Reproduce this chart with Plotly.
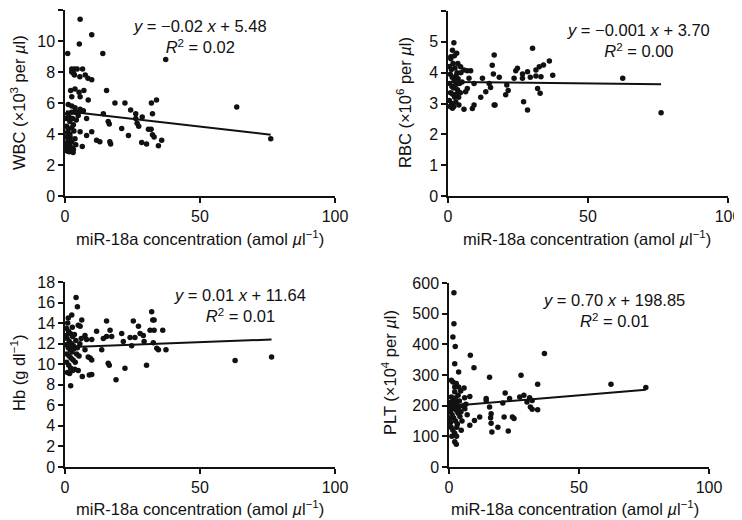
import numpy as np
import plotly.graph_objects as go

# ---------------- data ----------------
wbc_x = [5.6, 9.9, 5.3, 1.0, 14.0, 37.3,
         2.5, 3.5, 4.5, 6.5, 2.5, 3.2, 3.5, 5.5, 7.5, 8.5, 9.9,
         2.1, 3.7, 5.2, 7.0, 15.4,
         2.5, 5.6, 8.6, 18.5, 22.2, 32.0, 33.9,
         1.2, 2.5, 3.7, 5.6, 6.8, 1.0, 2.5, 3.7,
         14.2, 24.3, 26.2, 32.4,
         4.9, 8.0, 26.2, 28.6,
         16.0, 16.4, 21.0, 26.7, 27.3,
         30.9, 31.9, 32.4, 33.0,
         5.6, 8.0, 9.9,
         11.7, 12.9, 16.6, 16.9, 23.5,
         28.4, 30.2, 34.6, 35.8, 6.4,
         63.6, 76.2,
         0.6, 1.2, 1.8, 0.6, 1.2, 1.8, 2.5, 3.1, 1.2, 0.6, 2.5, 3.1, 1.8, 3.7, 2.5,
         0.8, 1.5, 2.2, 3.0, 0.5, 1.5, 2.8, 4.2, 4.0, 0.9, 1.9, 3.3, 4.5, 0.4]
wbc_y = [11.4, 10.4, 9.8, 9.2, 9.2, 8.8,
         8.2, 8.2, 8.2, 8.2, 8.0, 7.9, 7.8, 7.7, 7.8, 7.6, 7.5,
         6.8, 6.9, 6.7, 6.8, 6.8,
         6.4, 6.4, 6.2, 6.0, 6.0, 6.0, 6.2,
         5.9, 5.8, 5.7, 5.6, 5.5, 5.3, 5.4, 5.4,
         5.3, 5.55, 5.3, 5.3,
         5.2, 5.0, 5.0, 5.1,
         4.8, 4.65, 4.35, 4.7, 4.5,
         4.3, 4.3, 3.95, 3.8,
         4.15, 3.9, 4.15,
         3.6, 3.5, 3.5, 3.35, 3.9,
         3.45, 3.35, 3.25, 3.6, 3.2,
         5.75, 3.7,
         4.5, 4.3, 4.0, 3.8, 3.6, 3.3, 3.1, 3.0, 3.0, 3.2, 4.4, 4.6, 4.8, 3.7, 3.5,
         2.9, 2.85, 2.9, 2.8, 5.0, 5.1, 5.0, 4.9, 3.3, 4.1, 3.8, 4.2, 5.4, 3.4]

rbc_x = [2.1, 1.6, 3.1, 1.0, 30.2, 16.5,
         36.2, 34.1, 32.6, 31.4,
         24.8, 24.2, 28.4, 26.6,
         15.8, 8.1, 6.9, 4.5, 5.7,
         37.4, 31.4, 33.2,
         16.2, 18.3, 23.6, 26.6, 29.4,
         12.3, 7.5,
         21.0, 14.7, 9.3,
         15.2, 21.5, 32.0, 32.9,
         13.5, 11.7, 20.6,
         6.9, 6.3,
         16.5, 16.8, 27.0, 28.4,
         9.3, 8.7, 5.7, 3.9,
         62.4, 76.1,
         0.5, 1.2, 1.8, 2.5, 3.2, 0.8, 1.5, 2.2, 2.9, 3.6, 0.6, 1.4, 2.0, 2.7, 3.4, 4.1,
         0.9, 1.7, 2.4, 3.0, 3.8, 0.5, 1.3, 2.1, 2.8, 0.7, 1.6, 4.4, 3.5, 4.6, 5.0, 1.0, 2.3]
rbc_y = [4.97, 4.73, 4.63, 4.52, 4.79, 4.57,
         4.38, 4.25, 4.19, 4.09,
         4.14, 4.06, 4.03, 3.96,
         4.24, 4.06, 4.06, 4.19, 4.09,
         3.92, 3.89, 3.87,
         3.96, 3.85, 3.82, 3.82, 3.85,
         3.82, 3.82,
         3.6, 3.65, 3.65,
         3.52, 3.42, 3.49, 3.33,
         3.38, 3.2, 3.28,
         3.49, 3.38,
         2.95, 2.95, 3.06, 2.79,
         2.95, 2.84, 2.81, 2.95,
         3.82, 2.70,
         4.2, 4.1, 4.3, 4.15, 4.0, 3.95, 3.85, 3.75, 3.9, 3.8, 3.65, 3.55, 3.5, 3.6, 3.45, 3.65,
         3.35, 3.3, 3.2, 3.3, 3.2, 3.1, 3.0, 2.9, 3.05, 2.9, 2.85, 3.35, 4.3, 4.0, 3.7, 4.45, 4.55]

hb_x = [4.1, 4.6, 2.5, 1.2, 32.1, 32.5, 33.0,
        15.4, 25.3, 6.2, 4.9, 5.6,
        27.2, 16.7, 31.5, 33.0, 36.2,
        11.7, 21.0, 27.8, 29.0,
        15.4, 17.3, 24.1, 25.9,
        7.4, 8.0, 9.9, 14.2,
        21.6, 29.3, 32.7,
        13.6, 24.7, 34.6, 37.4, 34.0,
        7.4, 8.6, 9.3, 9.9,
        16.0, 16.4, 30.2, 22.2,
        4.9, 6.4, 9.0, 9.9,
        18.9, 2.1, 63.0, 76.5,
        0.5, 1.3, 2.0, 2.8, 3.5, 0.8, 1.6, 2.4, 3.1, 4.0, 0.5, 1.2, 1.9, 2.6, 3.3, 4.3,
        0.7, 1.5, 2.2, 3.0, 3.8, 0.6, 1.4, 2.1, 2.9, 3.6, 0.9, 1.7, 5.2, 5.5, 4.6, 6.0,
        0.4, 2.7, 1.0]
hb_y = [16.5, 15.6, 14.8, 14.5, 15.1, 14.3, 14.3,
        14.2, 14.2, 14.3, 13.8, 13.7,
        13.7, 13.3, 13.3, 13.3, 13.3,
        13.2, 13.0, 13.0, 12.8,
        12.7, 12.7, 12.6, 12.6,
        12.8, 12.4, 12.4, 12.5,
        12.2, 12.2, 12.1,
        11.4, 11.8, 11.4, 11.4, 11.55,
        11.4, 10.7, 10.6, 10.4,
        10.1, 9.9, 9.9, 9.6,
        9.4, 8.8, 8.95, 9.0,
        8.5, 7.9, 10.35, 10.7,
        13.5, 13.2, 13.0, 12.7, 12.9, 12.5, 12.2, 12.0, 11.8, 12.3, 11.9, 11.6, 11.4, 11.2, 11.5, 11.0,
        11.0, 10.8, 10.6, 10.4, 10.2, 10.2, 9.9, 9.6, 9.4, 9.5, 9.2, 9.1, 10.8, 12.0, 11.6, 12.5,
        12.8, 13.6, 14.0]

plt_x = [1.9, 1.9, 1.5, 2.4, 8.2, 36.7, 2.2, 3.7, 9.6,
         15.6, 27.7, 34.1, 62.3, 75.7,
         0.9, 1.5, 2.8, 2.2, 3.7, 4.5, 5.8, 2.2,
         21.6, 27.2, 28.8, 31.0, 32.0, 30.0, 31.3, 34.1, 32.0,
         14.3, 14.3, 20.7, 23.3, 6.0, 8.0,
         3.5, 0.9, 0.9, 0.3,
         15.6, 16.2, 16.0, 16.2, 16.5, 18.8,
         21.2, 24.4, 25.0, 22.8,
         11.8, 9.8, 8.0, 4.7,
         2.2, 2.8,
         0.5, 1.2, 1.8, 2.5, 3.2, 0.8, 1.5, 2.2, 2.9, 0.6, 1.4, 2.1, 2.8, 3.5, 4.2,
         0.9, 1.7, 2.4, 3.1, 3.8, 4.6, 5.3, 6.1, 7.0, 0.4, 1.1, 5.0, 3.0, 6.5, 4.0]
plt_y = [568, 467, 424, 393, 364, 370, 337, 310, 324,
         293, 299, 270, 270, 259,
         283, 277, 272, 261, 261, 248, 258, 245,
         241, 228, 234, 226, 217, 212, 196, 187, 188,
         223, 217, 209, 223, 226, 230,
         234, 228, 212, 196,
         196, 174, 161, 143, 114, 130,
         163, 163, 158, 117,
         163, 152, 136, 120,
         82, 74,
         180, 170, 160, 150, 140, 130, 120, 110, 100, 145, 190, 200, 185, 175, 165,
         205, 215, 225, 210, 195, 180, 200, 190, 170, 160, 100, 150, 130, 205, 215]

# regression equations shown on the chart
slopes = [-0.02, -0.001, 0.01, 0.70]
intercepts = [5.48, 3.70, 11.64, 198.85]
eq_text = ["<i>y</i> = \u22120.02 <i>x</i> + 5.48<br><i>R</i><sup>2</sup> = 0.02",
           "<i>y</i> = \u22120.001 <i>x</i> + 3.70<br><i>R</i><sup>2</sup> = 0.00",
           "<i>y</i> = 0.01 <i>x</i> + 11.64<br><i>R</i><sup>2</sup> = 0.01",
           "<i>y</i> = 0.70 <i>x</i> + 198.85<br><i>R</i><sup>2</sup> = 0.01"]
y_titles = ["WBC (\u00d710<sup>3</sup> per <i>\u00b5</i>l)",
            "RBC (\u00d710<sup>6</sup> per <i>\u00b5</i>l)",
            "Hb (g dl<sup>\u22121</sup>)",
            "PLT (\u00d710<sup>4</sup> per <i>\u00b5</i>l)"]
x_title = "miR-18a concentration (amol <i>\u00b5</i>l<sup>\u22121</sup>)"
x_ticks = [0, 50, 100]
y_ranges = [[0, 12], [0, 6], [0, 18], [0, 600]]
y_dticks = [2, 1, 2, 100]

xs = [wbc_x, rbc_x, hb_x, plt_x]
ys = [wbc_y, rbc_y, hb_y, plt_y]

# ---------------- layout geometry (screen pixels; page body offsets by 8px) ----------------
W, H = 742, 520
OFF = 8
def px(x): return (x - OFF) / W
def py(y): return 1 - (y - OFF) / H

x_domains = [[px(65), px(335)], [px(448), px(728)], [px(65), px(335)], [px(449), px(709)]]
y_domains = [[py(196), py(10)], [py(196), py(11)], [py(467), py(282)], [py(467), py(283)]]
ytitle_pos = [(px(18), py(103)), (px(404), py(103)), (px(18), py(373)), (px(389), py(373))]
xtitle_pos = [(px(200), py(238)), (px(587), py(238)), (px(200), py(508)), (px(575), py(508))]
eq_pos = [(px(200), py(36)), (px(638), py(40)), (px(240), py(305)), (px(614), py(310))]

FONT = "Liberation Sans, Arial, sans-serif"
INK = "#111111"
TXT = 16.5

fig = go.Figure()
for i in range(4):
    ax = "" if i == 0 else str(i + 1)
    fig.add_trace(go.Scatter(x=xs[i], y=ys[i], mode="markers",
                             marker=dict(color=INK, size=5.5),
                             cliponaxis=False, showlegend=False,
                             xaxis="x" + ax, yaxis="y" + ax))
    xl = np.array([min(xs[i]), max(xs[i])])
    yl = slopes[i] * xl + intercepts[i]
    fig.add_trace(go.Scatter(x=xl, y=yl, mode="lines",
                             line=dict(color=INK, width=2),
                             cliponaxis=False, showlegend=False,
                             xaxis="x" + ax, yaxis="y" + ax))
    axis_common = dict(showline=True, linecolor=INK, linewidth=1.5,
                       ticks="outside", ticklen=5, tickwidth=1.5, tickcolor=INK,
                       showgrid=False, zeroline=False, automargin=False,
                       tickfont=dict(family=FONT, size=16, color=INK))
    fig.update_layout(**{
        "xaxis" + ax: dict(domain=x_domains[i], range=[0, 100], tickvals=x_ticks,
                           anchor="y" + ax, **axis_common),
        "yaxis" + ax: dict(domain=y_domains[i], range=y_ranges[i], dtick=y_dticks[i],
                           anchor="x" + ax, **axis_common),
    })
    fig.add_annotation(x=ytitle_pos[i][0], y=ytitle_pos[i][1], xref="paper", yref="paper",
                       xanchor="center", yanchor="middle",
                       text=y_titles[i], textangle=-90, showarrow=False,
                       font=dict(family=FONT, size=TXT, color=INK))
    fig.add_annotation(x=xtitle_pos[i][0], y=xtitle_pos[i][1], xref="paper", yref="paper",
                       xanchor="center", yanchor="middle",
                       text=x_title, showarrow=False,
                       font=dict(family=FONT, size=TXT, color=INK))
    fig.add_annotation(x=eq_pos[i][0], y=eq_pos[i][1], xref="paper", yref="paper",
                       xanchor="center", yanchor="middle",
                       text=eq_text[i], showarrow=False, align="center",
                       font=dict(family=FONT, size=TXT, color=INK))

fig.update_layout(width=W, height=H, margin=dict(l=0, r=0, t=0, b=0),
                  paper_bgcolor="white", plot_bgcolor="white")
fig.write_html("out.html")
